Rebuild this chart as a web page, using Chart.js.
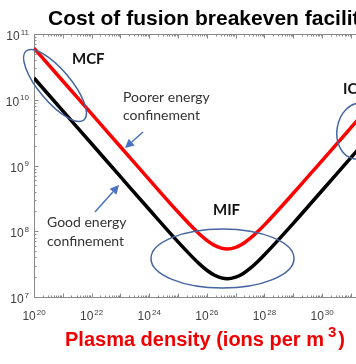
<!DOCTYPE html>
<html><head><meta charset="utf-8">
<style>html,body{margin:0;padding:0;overflow:hidden;background:#fff}canvas{display:block}</style>
<script src="https://cdn.jsdelivr.net/npm/chart.js@4/dist/chart.umd.min.js"></script>
</head><body><canvas id="c" width="356" height="364"></canvas>
<script>
// Plasma density (ions per m^3)
const densities   = [1e20,1e21,1e22,1e23,1e24,1e25,3.16e25,5.62e25,1e26,1.78e26,3.16e26,5.13e26,1e27,1.78e27,3.16e27,5.62e27,1e28,1e29,1e30,1e31,1e32];
// Poorer energy confinement (red)
const costPoorer  = [6.1e10,1.93e10,6.1e9,1.93e9,6.1e8,1.96e8,1.15e8,9.02e7,7.28e7,6.15e7,5.54e7,5.38e7,5.69e7,6.46e7,7.77e7,9.72e7,1.25e8,3.78e8,1.19e9,3.76e9,1.19e10];
// Good energy confinement (black)
const costGood    = [2.14e10,6.76e9,2.14e9,6.76e8,2.14e8,6.89e7,4.04e7,3.16e7,2.55e7,2.16e7,1.95e7,1.89e7,2.0e7,2.26e7,2.72e7,3.41e7,4.39e7,1.32e8,4.17e8,1.32e9,4.17e9];
const yTickExponents = [7,8,9,10,11];
const xTickExponents = [20,22,24,26,28,30];
const xDecades = [20,21,22,23,24,25,26,27,28,29,30,31];
const titleText = "Cost of fusion breakeven facility";
const xTitleText = "Plasma density (ions per m";
const xTitleSup = "3";

const FONT = '"Liberation Sans", Arial, sans-serif';
const LFONT = 'Lato, "Open Sans", sans-serif';

function supLabel(ctx, x, y, base, exp, bSize, eSize, align, color, bold) {
  const w = bold ? 'bold ' : '';
  ctx.font = w + bSize + 'px ' + FONT;
  const wb = ctx.measureText(base).width;
  ctx.font = w + eSize + 'px ' + FONT;
  const we = ctx.measureText(exp).width;
  const total = wb + we + 1;
  let sx = align === 'right' ? x - total : x - total / 2;
  ctx.fillStyle = color;
  ctx.textAlign = 'left';
  ctx.textBaseline = 'alphabetic';
  ctx.font = w + bSize + 'px ' + FONT;
  ctx.fillText(base, sx, y);
  ctx.font = w + eSize + 'px ' + FONT;
  ctx.fillText(exp, sx + wb + 1, y - bSize * 0.45);
}

function arrow(ctx, x1, y1, x2, y2, color) {
  const ang = Math.atan2(y2 - y1, x2 - x1);
  const hl = 9, hw = 4.5;
  const bx = x2 - hl * Math.cos(ang), by = y2 - hl * Math.sin(ang);
  ctx.strokeStyle = color; ctx.fillStyle = color; ctx.lineWidth = 1.5;
  ctx.beginPath(); ctx.moveTo(x1, y1); ctx.lineTo(bx, by); ctx.stroke();
  ctx.beginPath();
  ctx.moveTo(x2, y2);
  ctx.lineTo(bx + hw * Math.sin(ang), by - hw * Math.cos(ang));
  ctx.lineTo(bx - hw * Math.sin(ang), by + hw * Math.cos(ang));
  ctx.closePath(); ctx.fill();
}

const decor = {
  id: 'decor',
  beforeDatasetsDraw(chart) {
    const ctx = chart.ctx, xs = chart.scales.x, ys = chart.scales.y, a = chart.chartArea;
    ctx.save();
    ctx.strokeStyle = '#8a8a8a'; ctx.lineWidth = 1;
    const L = Math.round(a.left) + 0.5, B = Math.round(a.bottom) + 0.5, T = Math.round(a.top) + 0.5;
    ctx.beginPath();
    ctx.moveTo(L, T); ctx.lineTo(L, B); ctx.lineTo(chart.width, B);
    ctx.moveTo(L, T); ctx.lineTo(chart.width, T);
    ctx.stroke();
    ctx.beginPath();
    for (let n = 7; n <= 11; n++) {
      for (let k = 1; k <= 9; k++) {
        const v = k * Math.pow(10, n);
        if (v > 1e11) break;
        const y = Math.round(ys.getPixelForValue(v)) + 0.5;
        const len = k === 1 ? 4 : 2;
        ctx.moveTo(L, y); ctx.lineTo(L + len, y);
      }
    }
    xDecades.forEach(n => {
      for (let k = 1; k <= 9; k++) {
        const v = k * Math.pow(10, n);
        const x = Math.round(xs.getPixelForValue(v)) + 0.5;
        if (x > chart.width) break;
        const len = k === 1 ? 4 : 2;
        ctx.moveTo(x, B); ctx.lineTo(x, B - len);
        ctx.moveTo(x, T); ctx.lineTo(x, T + len);
      }
    });
    ctx.stroke();
    yTickExponents.forEach(e => {
      const y = ys.getPixelForValue(Math.pow(10, e));
      supLabel(ctx, 29, y + 6, '10', String(e), 12, 8, 'right', '#404040');
    });
    xTickExponents.forEach(e => {
      const x = xs.getPixelForValue(Math.pow(10, e));
      supLabel(ctx, x, 320, '10', String(e), 12, 8, 'center', '#404040');
    });
    ctx.fillStyle = '#000';
    ctx.font = 'bold 21px ' + FONT;
    ctx.textAlign = 'left'; ctx.textBaseline = 'alphabetic';
    ctx.fillText(titleText, 48, 25);
    ctx.fillStyle = '#f00000';
    ctx.font = 'bold 20px ' + FONT;
    const w1 = ctx.measureText(xTitleText).width;
    const sx = 65;
    ctx.fillText(xTitleText, sx, 346);
    ctx.font = 'bold 15px ' + FONT;
    const w2 = ctx.measureText(xTitleSup).width;
    ctx.fillText(xTitleSup, sx + w1 + 4, 337);
    ctx.font = 'bold 20px ' + FONT;
    ctx.fillText(')', sx + w1 + 4 + w2 + 2, 346);
    ctx.restore();
  },
  afterDatasetsDraw(chart) {
    const ctx = chart.ctx;
    ctx.save();
    ctx.strokeStyle = '#44659f'; ctx.lineWidth = 1.5;
    ctx.beginPath(); ctx.ellipse(55, 85.5, 45, 16, 50 * Math.PI / 180, 0, Math.PI * 2); ctx.stroke();
    ctx.beginPath(); ctx.ellipse(222.5, 258.5, 71.5, 29.5, 0, 0, Math.PI * 2); ctx.stroke();
    ctx.beginPath(); ctx.ellipse(358, 131, 21, 28, 0.15, 0, Math.PI * 2); ctx.stroke();
    ctx.fillStyle = '#111';
    ctx.font = 'bold 15px ' + LFONT;
    ctx.textAlign = 'left'; ctx.textBaseline = 'alphabetic';
    ctx.fillText('MCF', 72, 64);
    ctx.fillText('MIF', 213, 215);
    ctx.fillText('ICF', 343, 94);
    ctx.fillStyle = '#333';
    ctx.font = '14px ' + LFONT;
    ctx.fillText('Poorer energy', 123, 102);
    ctx.fillText('confinement', 123, 120);
    ctx.fillText('Good energy', 47, 227);
    ctx.fillText('confinement', 47, 246);
    arrow(ctx, 143, 132, 125, 148, '#4a72c4');
    arrow(ctx, 95, 212, 119, 185, '#4a72c4');
    ctx.restore();
  }
};

new Chart(document.getElementById('c'), {
  type: 'line',
  data: {
    datasets: [
      { label: 'Poorer energy confinement', data: densities.map((d, i) => ({ x: d, y: costPoorer[i] })),
        borderColor: '#ff0000', borderWidth: 3.5, pointRadius: 0, fill: false, cubicInterpolationMode: 'monotone' },
      { label: 'Good energy confinement', data: densities.map((d, i) => ({ x: d, y: costGood[i] })),
        borderColor: '#000000', borderWidth: 3.5, pointRadius: 0, fill: false, cubicInterpolationMode: 'monotone' }
    ]
  },
  options: {
    responsive: false, animation: false,
    layout: { padding: { left: 34, top: 34, right: 0, bottom: 67 } },
    plugins: { legend: { display: false }, tooltip: { enabled: false }, title: { display: false } },
    scales: {
      x: { type: 'logarithmic', min: 1e20, max: 1.5e31, display: false },
      y: { type: 'logarithmic', min: 1e7, max: 1e11, display: false }
    }
  },
  plugins: [decor]
});
</script></body></html>
